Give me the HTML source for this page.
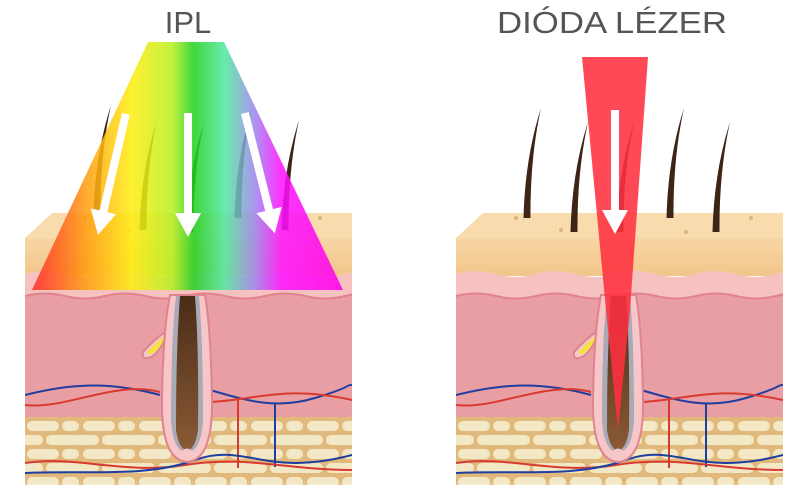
<!DOCTYPE html>
<html><head><meta charset="utf-8"><style>html,body{margin:0;padding:0;background:#fff}svg{display:block}</style></head><body>
<svg width="800" height="500" viewBox="0 0 800 500" xmlns="http://www.w3.org/2000/svg">
<defs>
<clipPath id="clip"><rect x="0" y="0" width="327" height="500"/></clipPath>
<pattern id="fat" x="0" y="419" width="56" height="28" patternUnits="userSpaceOnUse">
<rect width="56" height="28" fill="#e2b97c"/>
<rect x="2" y="2" width="32" height="10" rx="5" fill="#f3e8c6"/>
<rect x="37" y="2" width="17" height="10" rx="5" fill="#f3e8c6"/>
<rect x="-12" y="16" width="30" height="10" rx="5" fill="#f3e8c6"/>
<rect x="21" y="16" width="32" height="10" rx="5" fill="#f3e8c6"/>
<rect x="46" y="16" width="30" height="10" rx="5" fill="#f3e8c6"/>
</pattern>
<linearGradient id="epi" x1="0" y1="0" x2="0" y2="1"><stop offset="0" stop-color="#f7d6a4"/><stop offset="1" stop-color="#f2c68a"/></linearGradient>
<linearGradient id="fade" x1="0" y1="0" x2="0" y2="1"><stop offset="0" stop-color="#fff" stop-opacity="0"/><stop offset="1" stop-color="#fff"/></linearGradient>
<linearGradient id="shaft" x1="0" y1="0" x2="0" y2="1"><stop offset="0" stop-color="#4a2c18"/><stop offset="1" stop-color="#8a5a34"/></linearGradient>
<linearGradient id="rain" x1="32" y1="0" x2="343" y2="0" gradientUnits="userSpaceOnUse">
<stop offset="0" stop-color="#ff2a2a"/><stop offset="0.17" stop-color="#ff9a10"/><stop offset="0.32" stop-color="#ffee10"/><stop offset="0.45" stop-color="#b8f020"/><stop offset="0.52" stop-color="#20d020"/><stop offset="0.62" stop-color="#50e8a0"/><stop offset="0.72" stop-color="#a080f0"/><stop offset="0.8" stop-color="#ff10ff"/><stop offset="1" stop-color="#ff00e8"/></linearGradient>
<g id="skin"><g clip-path="url(#clip)">
<polygon points="27,213 327,213 327,238 0,238" fill="#f9dcae"/>
<rect x="0" y="238" width="327" height="38" fill="url(#epi)"/>
<path d="M0,274 q20,-6 40,0 t40,0 t40,0 t40,0 t40,0 t40,0 t40,0 t40,0 t40,0 L360,300 L0,300Z" fill="#f5c2c0"/>
<path d="M0,296 q20,-5 40,0 t40,0 t40,0 t40,0 t40,0 t40,0 t40,0 t40,0 t40,0 L360,420 L0,420Z" fill="#e99ea3"/>
<path d="M0,296 q20,-5 40,0 t40,0 t40,0 t40,0 t40,0 t40,0 t40,0 t40,0 t40,0" fill="none" stroke="#e0838f" stroke-width="2"/>
<rect x="0" y="417" width="327" height="68" fill="url(#fat)"/>
<rect x="0" y="482" width="327" height="14" fill="url(#fade)"/>
<g fill="#e0b080"><circle cx="60" cy="218" r="2"/><circle cx="105" cy="230" r="2"/><circle cx="230" cy="232" r="2"/><circle cx="295" cy="218" r="2"/></g>
<path d="M0,395 C40,385 80,380 135,395 M185,390 C220,400 250,410 290,398 S320,385 327,385" stroke="#1e3ea0" stroke-width="2" fill="none"/>
<path d="M0,405 C40,410 90,380 135,392 M185,402 C230,400 260,385 327,400" stroke="#d83a30" stroke-width="2" fill="none"/>
<path d="M213,398 V468" stroke="#d83a30" stroke-width="2" fill="none"/>
<path d="M250,403 V467" stroke="#1e3ea0" stroke-width="2" fill="none"/>
<path d="M0,463 C50,455 100,475 160,465 S260,470 327,470" stroke="#d83a30" stroke-width="2" fill="none"/>
<path d="M0,473 C60,470 120,478 170,460 S240,478 327,455" stroke="#1e3ea0" stroke-width="2" fill="none"/>
<path d="M118,352 q10,-12 25,-22 q-5,18 -15,26 q-12,6 -10,-4z" fill="#f2c8c8" stroke="#e0838f" stroke-width="2"/>
<path d="M123,351 q8,-8 18,-16 q-5,12 -12,18 q-8,3 -6,-2z" fill="#f6e040"/>
<path d="M145,295 L180,295 Q186,330 187,400 Q188,460 162,462 Q136,460 137,400 Q138,330 145,295Z" fill="#f6c6c8" stroke="#e0838f" stroke-width="2"/>
<path d="M151,296 L174,296 Q178,340 178,420 Q176,452 162,452 Q148,452 146,420 Q146,340 151,296Z" fill="#a9aab8"/>
<path d="M155,296 L170,296 Q174,350 173,430 Q170,450 162,450 Q154,450 151,430 Q151,350 155,296Z" fill="url(#shaft)"/>
<path d="M156,455 q6,-10 12,0" fill="none" stroke="#f6c6c8" stroke-width="3"/>
</g></g>
<path id="hair" d="M-3.5,0 Q-2,-60 14,-110 Q3,-60 3.5,0Z" fill="#3e2416"/>
</defs>
<text x="188" y="33" font-family="Liberation Sans, sans-serif" font-size="31" fill="#555" text-anchor="middle">IPL</text>
<text x="612" y="33" font-family="Liberation Sans, sans-serif" font-size="31" fill="#555" text-anchor="middle" textLength="230" lengthAdjust="spacingAndGlyphs">DIÓDA LÉZER</text>
<use href="#skin" x="25" y="0"/>
<use href="#skin" x="456" y="0"/>
<use href="#hair" x="97" y="215"/><use href="#hair" x="143" y="230"/><use href="#hair" x="190" y="232"/><use href="#hair" x="238" y="218"/><use href="#hair" x="285" y="230"/>
<use href="#hair" x="527" y="218"/><use href="#hair" x="574" y="232"/><use href="#hair" x="620" y="232"/><use href="#hair" x="670" y="218"/><use href="#hair" x="716" y="232"/>
<polygon points="148,42 224,42 343,290 32,290" fill="url(#rain)" opacity="0.86"/>
<polygon points="582,57 648,57 630,310 618,430 606,310" fill="#ff3040" opacity="0.88"/>
<g fill="#fff">
<path d="M0,0 h8 v100 h9 l-13,24 l-13,-24 h9z" transform="translate(184,113)"/>
<path d="M0,0 h8 v100 h9 l-13,24 l-13,-24 h9z" transform="translate(611,110)"/>
<path d="M0,0 h8 v100 h9 l-13,24 l-13,-24 h9z" transform="translate(122,113) rotate(13)"/>
<path d="M0,0 h8 v100 h9 l-13,24 l-13,-24 h9z" transform="translate(241,114) rotate(-14)"/>
</g>
</svg>
</body></html>
